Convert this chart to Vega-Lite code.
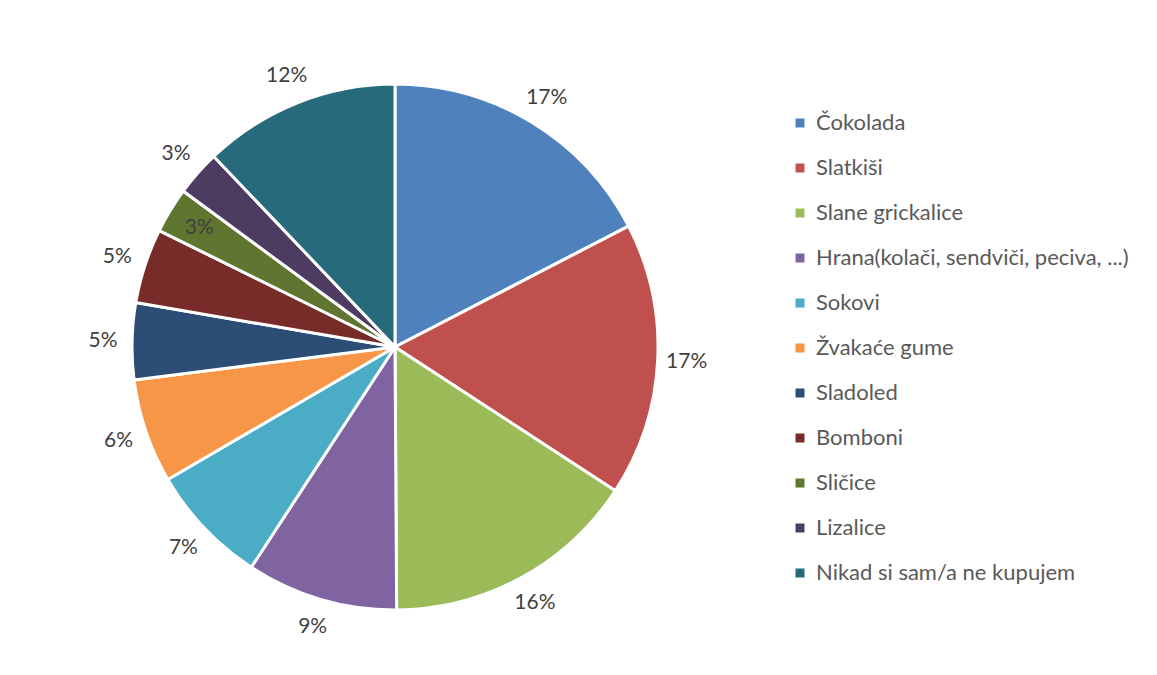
{
  "$schema": "https://vega.github.io/schema/vega-lite/v6.json",
  "background": "white",
  "autosize": {"type": "none"},
  "padding": {"left": 0, "top": 19, "right": 367, "bottom": 0},
  "width": 790,
  "height": 656,
  "data": {
    "values": [
      {"rb": 1, "Kategorija": "Čokolada", "udio": 0.174},
      {"rb": 2, "Kategorija": "Slatkiši", "udio": 0.168},
      {"rb": 3, "Kategorija": "Slane grickalice", "udio": 0.157},
      {"rb": 4, "Kategorija": "Hrana(kolači, sendviči, peciva, ...)", "udio": 0.093},
      {"rb": 5, "Kategorija": "Sokovi", "udio": 0.074},
      {"rb": 6, "Kategorija": "Žvakaće gume", "udio": 0.064},
      {"rb": 7, "Kategorija": "Sladoled", "udio": 0.047},
      {"rb": 8, "Kategorija": "Bomboni", "udio": 0.046},
      {"rb": 9, "Kategorija": "Sličice", "udio": 0.028},
      {"rb": 10, "Kategorija": "Lizalice", "udio": 0.028},
      {"rb": 11, "Kategorija": "Nikad si sam/a ne kupujem", "udio": 0.121}
    ]
  },
  "encoding": {
    "theta": {"field": "udio", "type": "quantitative", "stack": true},
    "order": {"field": "rb", "type": "quantitative"},
    "color": {
      "field": "Kategorija",
      "type": "nominal",
      "sort": null,
      "scale": {
        "domain": ["Čokolada", "Slatkiši", "Slane grickalice", "Hrana(kolači, sendviči, peciva, ...)", "Sokovi", "Žvakaće gume", "Sladoled", "Bomboni", "Sličice", "Lizalice", "Nikad si sam/a ne kupujem"],
        "range": ["#4F81BD", "#C0504D", "#9BBB59", "#8064A2", "#4BACC6", "#F79646", "#2C4D75", "#772C2A", "#5F7530", "#4D3B62", "#276A7C"]
      },
      "legend": {
        "title": null,
        "orient": "none",
        "legendX": 789,
        "legendY": 93,
        "symbolType": "square",
        "symbolSize": 81,
        "symbolStrokeWidth": 0,
        "labelFont": "Lato",
        "labelFontSize": 22,
        "labelColor": "#595959",
        "labelOffset": 5,
        "labelLimit": 400,
        "rowPadding": 23
      }
    }
  },
  "layer": [
    {
      "mark": {"type": "arc", "outerRadius": 263, "stroke": "white", "strokeWidth": 3}
    },
    {
      "mark": {"type": "text", "radius": 292, "font": "Lato", "fontSize": 21, "align": "center", "baseline": "middle"},
      "encoding": {
        "text": {"field": "udio", "type": "quantitative", "format": ".0%"},
        "color": {"value": "#404040"},
        "opacity": {"condition": {"test": "datum.Kategorija == 'Sličice'", "value": 0}, "value": 1}
      }
    },
    {
      "mark": {"type": "text", "radius": 229, "font": "Lato", "fontSize": 21, "align": "center", "baseline": "middle"},
      "encoding": {
        "text": {"field": "udio", "type": "quantitative", "format": ".0%"},
        "color": {"value": "#404040"},
        "opacity": {"condition": {"test": "datum.Kategorija == 'Sličice'", "value": 1}, "value": 0}
      }
    }
  ],
  "config": {"view": {"stroke": null}}
}
